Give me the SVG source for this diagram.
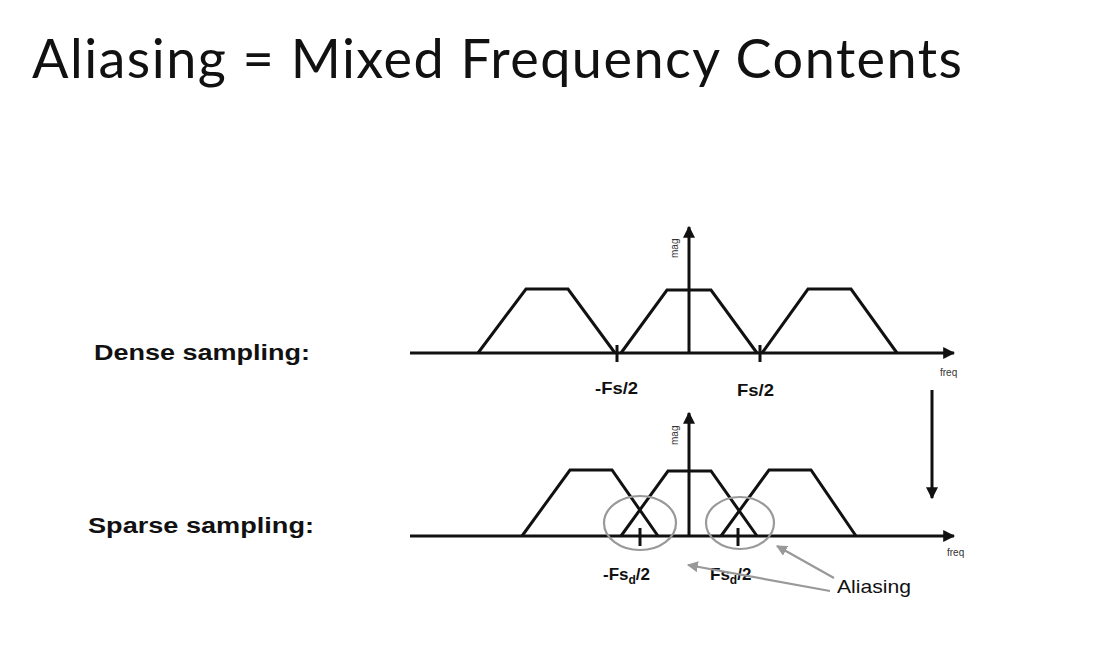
<svg xmlns="http://www.w3.org/2000/svg" width="1117" height="653" viewBox="0 0 1117 653">
<defs>
<style>
.ln{fill:none;stroke:#111;stroke-width:3;stroke-linejoin:miter}
.gr{fill:none;stroke:#999;stroke-width:2.2}
.lab{font-family:"Liberation Sans",Arial,sans-serif;font-weight:bold;fill:#111}
.sm{font-family:"Liberation Sans",Arial,sans-serif;fill:#333;font-size:10px}
</style>
<marker id="ah" viewBox="0 0 10 10" refX="9" refY="5" markerWidth="4" markerHeight="4" orient="auto" markerUnits="strokeWidth"><path d="M0,0 L10,5 L0,10 z" fill="#111"/></marker>
<marker id="gah" viewBox="0 0 10 10" refX="9" refY="5" markerWidth="5" markerHeight="5" orient="auto" markerUnits="strokeWidth"><path d="M0,0 L10,5 L0,10 z" fill="#999"/></marker>
</defs>
<rect width="1117" height="653" fill="#fff"/>
<text x="32" y="78" font-family="Lato, 'Open Sans', sans-serif" font-size="54" fill="#111" textLength="930">Aliasing = Mixed Frequency Contents</text>

<g id="dense-label"><text class="lab" x="94" y="360" font-size="22" textLength="216" lengthAdjust="spacingAndGlyphs">Dense sampling:</text></g>
<g id="sparse-label"><text class="lab" x="88" y="533" font-size="22" textLength="226" lengthAdjust="spacingAndGlyphs">Sparse sampling:</text></g>

<g id="dense-graph">
<line class="ln" x1="410" y1="353" x2="954" y2="353" marker-end="url(#ah)"/>
<line class="ln" x1="689" y1="353" x2="689" y2="227" marker-end="url(#ah)"/>
<polyline class="ln" points="478,353 526,289 568,289 615,353"/>
<polyline class="ln" points="621,353 667,290 711,290 757,353"/>
<polyline class="ln" points="762,353 808,289 851,289 897,353"/>
<line class="ln" x1="617" y1="345" x2="617" y2="362"/>
<line class="ln" x1="760" y1="345" x2="760" y2="362"/>
<text class="lab" x="595" y="394" font-size="17" textLength="43" lengthAdjust="spacingAndGlyphs">-Fs/2</text>
<text class="lab" x="737" y="396" font-size="17" textLength="37" lengthAdjust="spacingAndGlyphs">Fs/2</text>
<text class="sm" x="940" y="376">freq</text>
<text class="sm" transform="translate(678,258) rotate(-90)">mag</text>
</g>

<g id="sparse-graph">
<line class="ln" x1="410" y1="536" x2="954" y2="536" marker-end="url(#ah)"/>
<line class="ln" x1="689" y1="536" x2="689" y2="413" marker-end="url(#ah)"/>
<polyline class="ln" points="522,536 570,470 612,470 658,536"/>
<polyline class="ln" points="621,536 668,471 711,471 757,536"/>
<polyline class="ln" points="721,536 769,470 811,470 856,536"/>
<line class="ln" x1="640" y1="528" x2="640" y2="546"/>
<line class="ln" x1="738" y1="528" x2="738" y2="546"/>
<text class="sm" x="947" y="556">freq</text>
<text class="sm" transform="translate(678,445) rotate(-90)">mag</text>
</g>

<g id="aliasing-circles">
<ellipse class="gr" cx="640" cy="523" rx="36" ry="27"/>
<ellipse class="gr" cx="740" cy="523" rx="34" ry="26"/>
</g>

<g id="sparse-labels">
<text class="lab" x="603" y="580" font-size="17">-Fs<tspan font-size="12" dy="4">d</tspan><tspan dy="-4">/2</tspan></text>
<text class="lab" x="710" y="580" font-size="17">Fs<tspan font-size="12" dy="4">d</tspan><tspan dy="-4">/2</tspan></text>
</g>

<g id="aliasing-label"><text x="837" y="593" font-family="'Liberation Sans',Arial,sans-serif" font-size="19" fill="#111" textLength="74" lengthAdjust="spacingAndGlyphs">Aliasing</text></g>

<g id="connectors">
<line class="gr" x1="834" y1="578" x2="777" y2="546" marker-end="url(#gah)"/>
<line class="gr" x1="830" y1="591" x2="688" y2="565" marker-end="url(#gah)"/>
<line class="ln" x1="932" y1="390" x2="932" y2="498" marker-end="url(#ah)"/>
</g>
</svg>
